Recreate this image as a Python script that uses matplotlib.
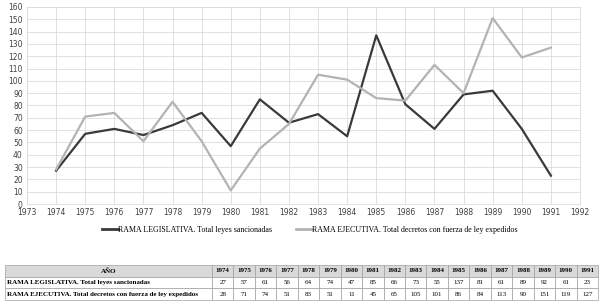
import numpy as np
import matplotlib.pyplot as plt
from matplotlib.lines import Line2D

years = [1974, 1975, 1976, 1977, 1978, 1979, 1980, 1981, 1982,
         1983, 1984, 1985, 1986, 1987, 1988, 1989, 1990, 1991]
legislativa = [27, 57, 61, 56, 64, 74, 47, 85, 66, 73, 55, 137, 81, 61, 89, 92, 61, 23]
ejecutiva = [28, 71, 74, 51, 83, 51, 11, 45, 65, 105, 101, 86, 84, 113, 90, 151, 119, 127]

label_leg = 'RAMA LEGISLATIVA. Total leyes sancionadas'
label_eje = 'RAMA EJECUTIVA. Total decretos con fuerza de ley expedidos'
col_leg = '#3a3a3a'
col_eje = '#b3b3b3'

fig = plt.figure(figsize=(6.02, 3.03), dpi=100)

# line chart
ax = fig.add_axes([27 / 602, 1 - 204 / 303, (580 - 27) / 602, (204 - 7) / 303])
ax.plot(years, legislativa, color=col_leg, lw=1.6)
ax.plot(years, ejecutiva, color=col_eje, lw=1.6)
ax.set_xlim(1973, 1992)
ax.set_ylim(0, 160)
ax.set_xticks(np.arange(1973, 1993))
ax.set_yticks(np.arange(0, 161, 10))
ax.grid(True, color='#dcdcdc', lw=0.6)
ax.set_axisbelow(True)
for s in ax.spines.values():
    s.set_color('#dcdcdc')
    s.set_linewidth(0.6)
ax.tick_params(length=0, labelsize=5.5, labelcolor='#404040', pad=3)

# legend
handles = [Line2D([], [], color=col_leg, lw=2), Line2D([], [], color=col_eje, lw=2)]
fig.legend(handles, [label_leg, label_eje], loc='center', bbox_to_anchor=(0.515, 1 - 230 / 303),
           ncol=2, frameon=False, handlelength=2.0, handletextpad=0.05, columnspacing=3.0,
           prop={'family': 'Liberation Serif', 'size': 5.7})

# data table
tax = fig.add_axes([5 / 602, 1 - 300 / 303, (598 - 5) / 602, 35 / 303])
tax.axis('off')
cells = [['AÑO'] + [str(y) for y in years],
         [label_leg] + [str(v) for v in legislativa],
         [label_eje] + [str(v) for v in ejecutiva]]
first_w = 207 / 593
other_w = (1 - first_w) / len(years)
tbl = tax.table(cellText=cells, bbox=[0, 0, 1, 1],
                colWidths=[first_w] + [other_w] * len(years), cellLoc='center')
tbl.auto_set_font_size(False)
for (r, c), cell in tbl.get_celld().items():
    cell.set_edgecolor('#a0a0a0')
    cell.set_linewidth(0.5)
    txt = cell.get_text()
    txt.set_fontfamily('Liberation Serif')
    txt.set_fontsize(5)
    if r == 0:
        cell.set_facecolor('#d9d9d9')
        txt.set_fontweight('bold')
    if c == 0:
        txt.set_fontweight('bold')
        if r > 0:
            cell.set_text_props(ha='left')
            cell.PAD = 0.01

fig.savefig('out.png', dpi=100)
